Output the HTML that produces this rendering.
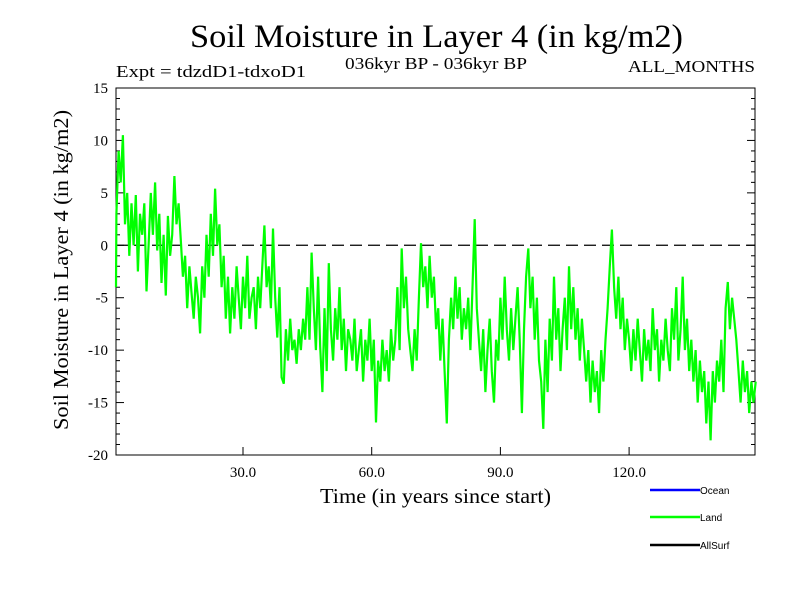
<!DOCTYPE html>
<html><head><meta charset="utf-8"><style>
body{margin:0;background:#fff;}
svg{display:block;font-family:"Liberation Serif",serif;}
</style></head><body>
<svg id="chart" width="800" height="600" viewBox="0 0 800 600">
<rect width="800" height="600" fill="#fff"/>
<text x="190" y="47" font-size="33" textLength="493" lengthAdjust="spacingAndGlyphs">Soil Moisture in Layer 4 (in kg/m2)</text>
<text x="116" y="77" font-size="17" textLength="190" lengthAdjust="spacingAndGlyphs">Expt = tdzdD1-tdxoD1</text>
<text x="345" y="69" font-size="17" textLength="182" lengthAdjust="spacingAndGlyphs">036kyr BP - 036kyr BP</text>
<text x="628" y="72" font-size="17" textLength="127" lengthAdjust="spacingAndGlyphs">ALL_MONTHS</text>
<text transform="translate(68,270) rotate(-90)" font-size="21" text-anchor="middle" textLength="320" lengthAdjust="spacingAndGlyphs">Soil Moisture in Layer 4 (in kg/m2)</text>
<text x="320" y="503" font-size="21" textLength="231" lengthAdjust="spacingAndGlyphs">Time (in years since start)</text>
<g id="axes"></g>
<g id="series"></g>
<g font-family="Liberation Sans,sans-serif" font-size="10">
<line x1="650" y1="490" x2="700" y2="490" stroke="#0000ff" stroke-width="2.5"/>
<text x="700" y="494">Ocean</text>
<line x1="650" y1="517" x2="700" y2="517" stroke="#00ff00" stroke-width="2.5"/>
<text x="700" y="521">Land</text>
<line x1="650" y1="545" x2="700" y2="545" stroke="#000" stroke-width="2.5"/>
<text x="700" y="549">AllSurf</text>
</g>
</svg>
<script>
const yTicks=[15,10,5,0,-5,-10,-15,-20];
const xTicks=[30,60,90,120];
const xTickLabels=["30.0","60.0","90.0","120.0"];
const landStep=0.5;
const landValues=[
-4,3,9,6,10.5,2,5,-1,4,0,
4.8,-2.5,3,1,4,-4.4,0,5,1,6,
-0.5,3,-3.6,1,-4.8,2.8,-1,1,6.6,2,
4,0.5,-3,-1,-6,-2,-4.5,-7,-3,-5,
-8.4,-2,-5,1,-3,3,-1,5.4,0,2,
-4,-1,-7,-3,-8.4,-4,-7,-2,-5,-8,
-3,-6,-1,-7,-5,-4,-8,-3,-6,-2,
1.9,-4,-2,-6,1.6,-5,-8.8,-4,-12.6,-13.2,
-8,-11,-7,-10,-9,-11.3,-8,-10,-7,-9,
-4,-9,-0.7,-6,-10,-3,-9.7,-14,-6,-12,
-1.7,-8,-11,-6,-9,-4,-10,-7,-12,-8,
-9,-11,-7,-12,-10,-8,-13,-9,-11,-7,
-12,-9,-16.9,-11,-13,-9,-12,-10,-13,-8,
-11,-9,-4,-10,-0.3,-6,-3,-8,-10,-12,
-8,-11,-5,0.2,-4,-2,-6,-1,-5,-3,
-8,-6,-11,-7,-12,-17,-9,-5,-8,-3,
-7,-4,-9,-6,-8,-5,-10,-4,2.5,-6,
-9,-12,-8,-14,-10,-7,-12,-15,-9,-11,
-5,-9,-3,-8,-11,-6,-10,-7,-4,-9,
-16,-8,-3,-0.3,-6,-3,-9,-5,-11,-13,
-17.5,-9,-14,-7,-11,-3,-9,-6,-12,-8,
-5,-10,-2,-8,-4,-9,-6,-11,-7,-10,
-13,-10,-15,-11,-14,-12,-16,-10,-13,-9,
-6,-2,1.5,-4,-7,-3,-8,-5,-10,-7,
-9,-12,-8,-11,-7,-10,-13,-8,-11,-9,
-12,-6,-10,-8,-13,-9,-11,-7,-10,-12,
-6,-9,-4,-11,-8,-3,-10,-7,-12,-9,
-13,-10,-15,-11,-14,-12,-17,-13,-18.6,-12,
-15,-11,-13,-9,-14,-6,-3.5,-8,-5,-7,
-9,-12,-15,-11,-14,-12,-16,-13,-15,-13];
const L=116,R=755,T=88,B=455;
const X0=114.3,XS=4.29;
function xs(v){return X0+v*XS;}
function ys(v){return T+(15-v)*(B-T)/35;}
const NS="http://www.w3.org/2000/svg";
const ax=document.getElementById('axes');
function mk(tag,attrs,parent){const e=document.createElementNS(NS,tag);for(const k in attrs)e.setAttribute(k,attrs[k]);parent.appendChild(e);return e;}
const frame=mk('rect',{x:L,y:T,width:R-L,height:B-T,fill:'none',stroke:'#000','stroke-width':1},ax);


for(let v=-20;v<=15;v++){
  const y=ys(v);const len=(v%5===0)?8:4;
  mk('line',{x1:L,y1:y,x2:L+len,y2:y,stroke:'#000'},ax);
  mk('line',{x1:R,y1:y,x2:R-len,y2:y,stroke:'#000'},ax);
}
yTicks.forEach(v=>{
  const t=mk('text',{x:L-8,y:ys(v)+5,'font-size':15,'text-anchor':'end'},ax);
  t.textContent=v;
  
  
});
xTicks.forEach((v,i)=>{
  mk('line',{x1:xs(v),y1:B,x2:xs(v),y2:B-8,stroke:'#000'},ax);
  const t=mk('text',{x:xs(v),y:B+22,'font-size':15,'text-anchor':'middle'},ax);
  t.textContent=xTickLabels[i];
  
  
});
const zero=mk('line',{x1:L,y1:ys(0),x2:R,y2:ys(0),stroke:'#000','stroke-dasharray':'12,6','stroke-width':1.2},ax);


const pts=landValues.map((v,i)=>xs(Math.max(0.4,i*landStep)).toFixed(1)+','+ys(v).toFixed(1)).join(' ');
const line=mk('polyline',{points:pts,fill:'none',stroke:'#00ff00','stroke-width':2.2,'stroke-linejoin':'miter'},document.getElementById('series'));


</script>
</body></html>
